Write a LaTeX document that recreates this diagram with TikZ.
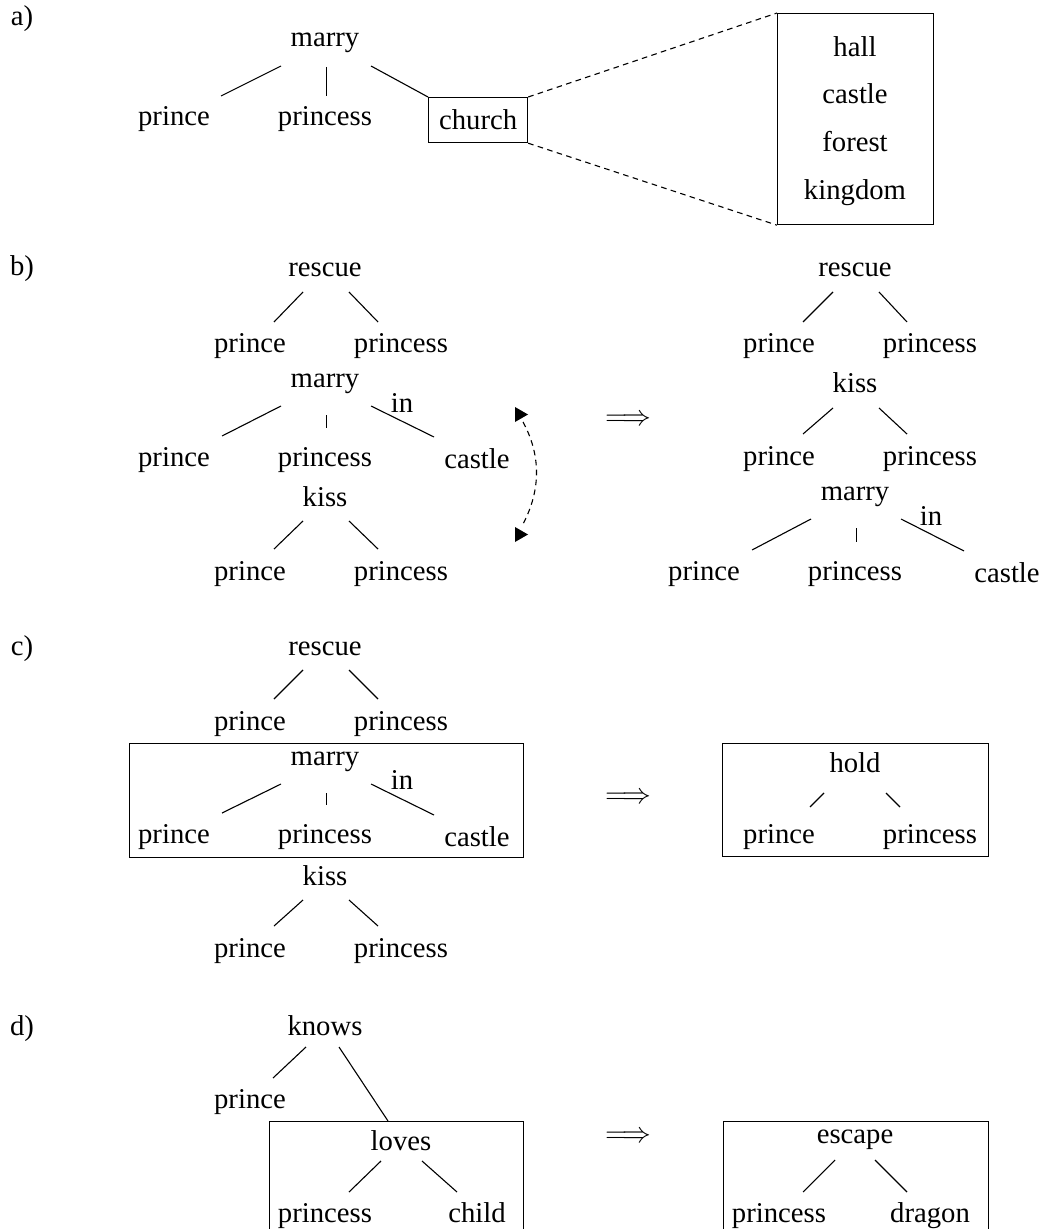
\documentclass[tikz,border=0pt]{standalone}
\usepackage{fontspec}
\setmainfont{Liberation Serif}
\usetikzlibrary{calc}
\newcommand\treefont{\fontsize{14.35}{17}\selectfont}
% two daughters below a head word
\newcommand\twokids[3]{%
  \draw[edge] ([shift={(-22,15)}]#1.base) -- ([shift={(24,-31)}]#2.base);
  \draw[edge] ([shift={(24,15)}]#1.base) -- ([shift={(-23,-31)}]#3.base);}
% three daughters below a head word
\newcommand\threekids[4]{%
  \draw[edge] ([shift={(-44,19)}]#1.base) -- ([shift={(48,-30)}]#2.base);
  \draw[edge] ([shift={(1.5,28)}]#1.base) -- ([shift={(1.5,-38)}]#3.base);
  \draw[edge] ([shift={(46,19)}]#1.base) -- ([shift={(-43,-31)}]#4.base);}
\begin{document}
\begin{tikzpicture}[x=0.5pt,y=-0.5pt,
  w/.style={anchor=base,inner sep=0pt,font=\treefont},
  edge/.style={line width=0.55pt},
  framebox/.style={draw,line width=0.6pt,inner sep=0pt,anchor=north west,font=\treefont},
  dashline/.style={line width=0.55pt,dash pattern=on 2.8pt off 2.2pt},
  implies/.style={inner sep=0pt,font=\treefont}]
\clip (0,0) rectangle (1043,1229);

% ---------- a) ----------
\node[w] (la) at (22,26) {a)};
\node[w] (am) at (325,47) {marry};
\node[w] (ap) at (174,126) {prince};
\node[w] (aps) at (325,126) {princess};
\node[framebox,minimum width=49.5pt,minimum height=22.5pt] (ach) at (428,97) {church};
\node[framebox,minimum width=78pt,minimum height=105.5pt] (zbox) at (777,13) {};
\node[w] (zh) at (855,57) {hall};
\node[w] (zc) at (855,104) {castle};
\node[w] (zf) at (855,152) {forest};
\node[w] (zk) at (855,200) {kingdom};
\draw[edge] ([shift={(-44,19)}]am.base) -- ([shift={(47,-30)}]ap.base);
\draw[edge] ([shift={(1.5,20)}]am.base) -- ([shift={(1.5,-30)}]aps.base);
\draw[edge] ([shift={(46,19)}]am.base) -- (ach.north west);
\draw[dashline] (ach.north east) -- (zbox.north west);
\draw[dashline] (ach.south east) -- (zbox.south west);

% ---------- b) ----------
\node[w] (lb) at (22,276) {b)};
\node[w] (br) at (325,277) {rescue};
\node[w] (brp) at (250,353) {prince};
\node[w] (brs) at (401,353) {princess};
\node[w] (bm) at (325,387) {marry};
\node[w] (bin) at (402,412) {in};
\node[w] (bmp) at (174,466) {prince};
\node[w] (bms) at (325,466) {princess};
\node[w] (bmc) at (477,468) {castle};
\node[w] (bk) at (325,506) {kiss};
\node[w] (bkp) at (250,580) {prince};
\node[w] (bks) at (401,580) {princess};
\twokids{br}{brp}{brs}
\threekids{bm}{bmp}{bms}{bmc}
\twokids{bk}{bkp}{bks}

% swap of the two lower clauses
\coordinate (swapTop) at (523,422);
\coordinate (swapBot) at (523,524);
\draw[dashline] (swapTop) .. controls +(18,33) and +(18,-34) .. (swapBot);
\fill (swapTop) ++(-8,-15) -- ++(13,7.5) -- ++(-13,7.5) -- cycle;
\fill (swapBot) ++(-8,3) -- ++(13,7.5) -- ++(-13,7.5) -- cycle;

\node[implies] (rb) at (628,420) {$\Longrightarrow$};

\node[w] (qr) at (855,277) {rescue};
\node[w] (qrp) at (779,353) {prince};
\node[w] (qrs) at (930,353) {princess};
\node[w] (qk) at (855,393) {kiss};
\node[w] (qkp) at (779,465) {prince};
\node[w] (qks) at (930,465) {princess};
\node[w] (qm) at (855,500) {marry};
\node[w] (qin) at (931,525) {in};
\node[w] (qmp) at (704,580) {prince};
\node[w] (qms) at (855,580) {princess};
\node[w] (qmc) at (1007,582) {castle};
\twokids{qr}{qrp}{qrs}
\twokids{qk}{qkp}{qks}
\threekids{qm}{qmp}{qms}{qmc}

% ---------- c) ----------
\node[w] (lc) at (22,655) {c)};
\node[w] (cr) at (325,655) {rescue};
\node[w] (crp) at (250,730) {prince};
\node[w] (crs) at (401,730) {princess};
\node[framebox,minimum width=197pt,minimum height=57pt] (cbox) at (129,743) {};
\node[w] (cm) at (325,765) {marry};
\node[w] (cin) at (402,789) {in};
\node[w] (cmp) at (174,843) {prince};
\node[w] (cms) at (325,843) {princess};
\node[w] (cmc) at (477,846) {castle};
\node[w] (ck) at (325,885) {kiss};
\node[w] (ckp) at (250,957) {prince};
\node[w] (cks) at (401,957) {princess};
\twokids{cr}{crp}{crs}
\threekids{cm}{cmp}{cms}{cmc}
\twokids{ck}{ckp}{cks}

\node[implies] (rc) at (628,798) {$\Longrightarrow$};

\node[framebox,minimum width=133pt,minimum height=56.5pt] (hbox) at (722,743) {};
\node[w] (ch) at (855,772) {hold};
\node[w] (chp) at (779,843) {prince};
\node[w] (chs) at (930,843) {princess};
\draw[edge] ([shift={(-31,21)}]ch.base) -- ([shift={(31,-36)}]chp.base);
\draw[edge] ([shift={(31,21)}]ch.base) -- ([shift={(-30,-36)}]chs.base);

% ---------- d) ----------
\node[w] (ld) at (22,1035) {d)};
\node[w] (dk) at (325,1035) {knows};
\node[w] (dkp) at (250,1108) {prince};
\node[framebox,minimum width=127pt,minimum height=65pt] (lbox) at (269,1121) {};
\node[w] (dl) at (401,1150) {loves};
\node[w] (dlp) at (325,1222) {princess};
\node[w] (dlc) at (477,1222) {child};
\draw[edge] ([shift={(-19,12)}]dk.base) -- ([shift={(23,-30)}]dkp.base);
\draw[edge] ([shift={(14,12)}]dk.base) -- ([xshift=59.5pt]lbox.north west);
\draw[edge] ([shift={(-20,11)}]dl.base) -- ([shift={(24,-30)}]dlp.base);
\draw[edge] ([shift={(21,11)}]dl.base) -- ([shift={(-20,-30)}]dlc.base);

\node[implies] (rd) at (628,1137) {$\Longrightarrow$};

\node[framebox,minimum width=132.5pt,minimum height=65pt] (ebox) at (723,1121) {};
\node[w] (de) at (855,1143) {escape};
\node[w] (dep) at (779,1222) {princess};
\node[w] (ded) at (930,1222) {dragon};
\draw[edge] ([shift={(-20,17)}]de.base) -- ([shift={(24,-30)}]dep.base);
\draw[edge] ([shift={(20,17)}]de.base) -- ([shift={(-23,-30)}]ded.base);
\end{tikzpicture}
\end{document}
